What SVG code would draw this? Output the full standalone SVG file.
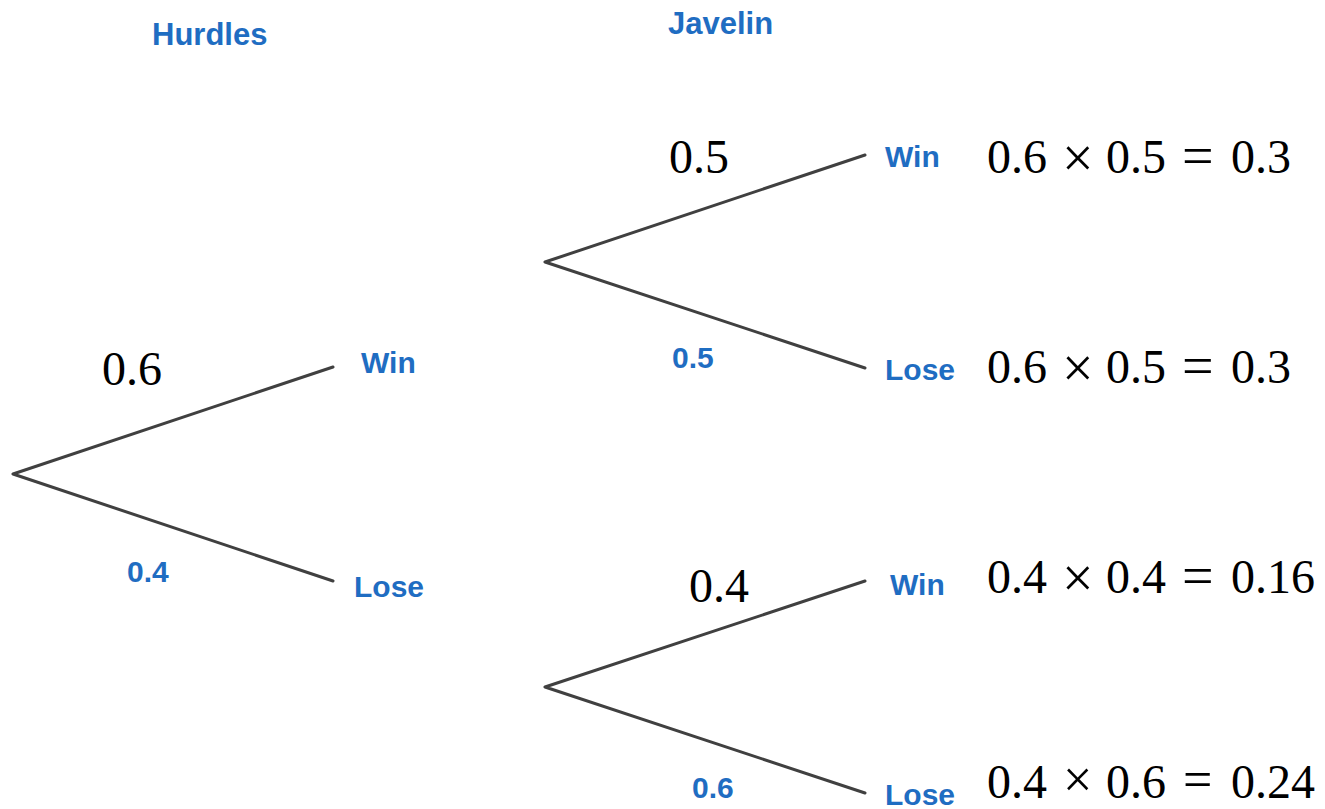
<svg xmlns="http://www.w3.org/2000/svg" width="1325" height="809" viewBox="0 0 1325 809">
  <style>
    .title { font-family: "Liberation Sans", Arial, sans-serif; font-weight: bold; font-size: 31px; fill: #1f6dc2; }
    .lbl { font-family: "Liberation Sans", Arial, sans-serif; font-weight: bold; font-size: 30px; fill: #1f6dc2; }
    .num { font-family: "Liberation Serif", "Times New Roman", serif; font-size: 48px; fill: #000; }
    .op { font-size: 56px; }
    .op-low { font-size: 52px; }
    .branch { stroke: #404040; stroke-width: 3; fill: none; stroke-linecap: round; }
  </style>
  <rect width="1325" height="809" fill="#ffffff"/>

  <!-- column headings -->
  <g id="headings">
    <text class="title" x="152" y="45">Hurdles</text>
    <text class="title" x="668" y="34">Javelin</text>
  </g>

  <!-- tree branches -->
  <g id="connectors">
    <path class="branch" d="M13 474 L333 367 M13 474 L333 581"/>
    <path class="branch" d="M545 262 L865 155 M545 262 L865 368"/>
    <path class="branch" d="M545 687 L865 581 M545 687 L865 793"/>
  </g>

  <!-- first event: hurdles -->
  <g id="hurdles-win">
    <text class="lbl" x="361" y="373">Win</text>
    <text class="num" x="102" y="385">0.6</text>
  </g>
  <g id="hurdles-lose">
    <text class="lbl" x="354" y="597">Lose</text>
    <text class="lbl" x="127" y="582">0.4</text>
  </g>

  <!-- second event after a hurdles win -->
  <g id="javelin-win-1">
    <text class="lbl" x="885" y="167">Win</text>
    <text class="num" x="669" y="173">0.5</text>
    <text class="num"><tspan x="987" y="173">0.6</tspan><tspan class="op" x="1062" y="177">×</tspan><tspan x="1106" y="173">0.5</tspan><tspan class="op" x="1182" y="175">=</tspan><tspan x="1231" y="173">0.3</tspan></text>
  </g>
  <g id="javelin-lose-1">
    <text class="lbl" x="885" y="380">Lose</text>
    <text class="lbl" x="672" y="368">0.5</text>
    <text class="num"><tspan x="987" y="383">0.6</tspan><tspan class="op" x="1062" y="387">×</tspan><tspan x="1106" y="383">0.5</tspan><tspan class="op" x="1182" y="385">=</tspan><tspan x="1231" y="383">0.3</tspan></text>
  </g>

  <!-- second event after a hurdles loss -->
  <g id="javelin-win-2">
    <text class="lbl" x="890" y="595">Win</text>
    <text class="num" x="689" y="602">0.4</text>
    <text class="num"><tspan x="987" y="593">0.4</tspan><tspan class="op" x="1062" y="597">×</tspan><tspan x="1106" y="593">0.4</tspan><tspan class="op" x="1182" y="595">=</tspan><tspan x="1231" y="593">0.16</tspan></text>
  </g>
  <g id="javelin-lose-2">
    <text class="lbl" x="885" y="805">Lose</text>
    <text class="lbl" x="692" y="798">0.6</text>
    <text class="num"><tspan x="987" y="798">0.4</tspan><tspan class="op-low" x="1063" y="797">×</tspan><tspan x="1106" y="798">0.6</tspan><tspan class="op-low" x="1183" y="797">=</tspan><tspan x="1231" y="798">0.24</tspan></text>
  </g>
</svg>
